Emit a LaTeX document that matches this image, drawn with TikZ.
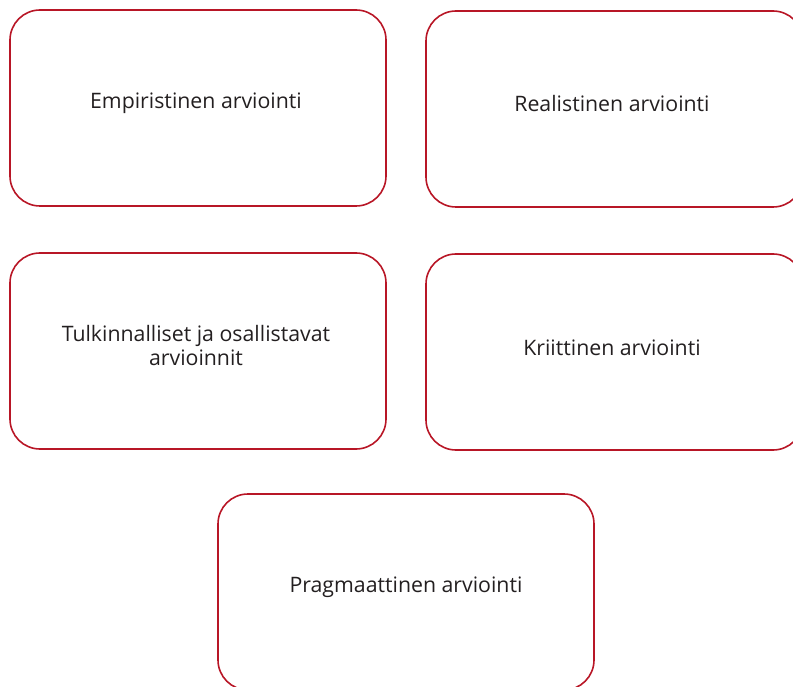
\documentclass[tikz,border=0pt]{standalone}
\usepackage{fontspec}
\setmainfont{Open Sans}
\definecolor{boxred}{RGB}{184,22,38}
\definecolor{txt}{RGB}{35,31,32}
\begin{document}
\begin{tikzpicture}[x=1pt,y=-1pt,
  box/.style={draw=boxred, line width=1.6pt, rounded corners=30pt},
  lbl/.style={text=txt, font=\fontsize{21.3}{24}\selectfont, align=center}]
\useasboundingbox (0,0) rectangle (793,687);
\begin{scope}
\clip (0,0) rectangle (793,687);
\draw[box] (10,10) rectangle (386,206);
\draw[box] (426,11) rectangle (803,207);
\draw[box] (10,253) rectangle (386,449);
\draw[box] (426,254) rectangle (803,450);
\draw[box] (218,494) rectangle (594,690);
\end{scope}
\node[lbl] (a) at (196,103) {Empiristinen arviointi};
\node[lbl] (b) at (612,104) {Realistinen arviointi};
\node[lbl] (c) at (196,346) {Tulkinnalliset ja osallistavat\\arvioinnit};
\node[lbl] (d) at (612,348) {Kriittinen arviointi};
\node[lbl] (e) at (406,587) {Pragmaattinen arviointi};
\end{tikzpicture}
\end{document}
